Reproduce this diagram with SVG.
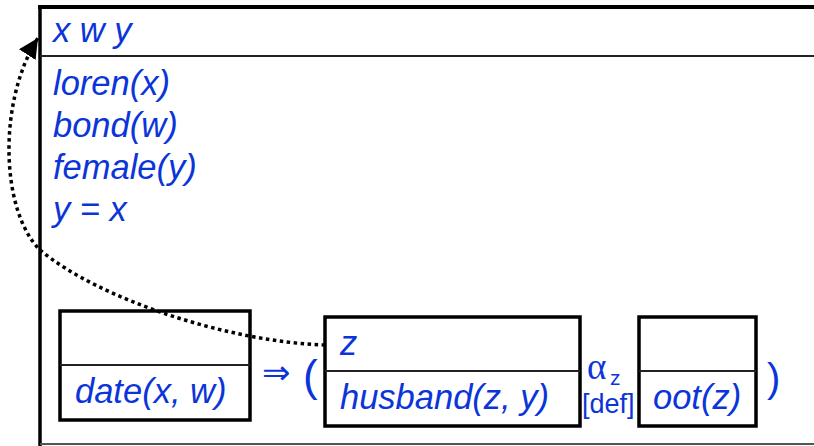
<svg xmlns="http://www.w3.org/2000/svg" width="814" height="446" viewBox="0 0 814 446">
<defs>
<style>
.t{font-family:"Liberation Sans",Arial,sans-serif;font-style:italic;font-size:34.5px;fill:#0b35d8}
.r{font-family:"Liberation Sans","DejaVu Sans",Arial,sans-serif;fill:#0b35d8}
.box{fill:#fff;stroke:#000;stroke-width:3.5}
.div{stroke:#222;stroke-width:2}
</style>
<marker id="ah" markerWidth="22" markerHeight="20" refX="18" refY="9" orient="auto" markerUnits="userSpaceOnUse" viewBox="0 0 20 18">
<path d="M0 0 L18 9 L0 18 Z" fill="#000"/>
</marker>
</defs>
<g id="frame">
<line x1="40" y1="7" x2="40" y2="446" stroke="#000" stroke-width="3.5"/>
<line x1="38" y1="7" x2="814" y2="7" stroke="#000" stroke-width="4"/>
<line x1="40" y1="56" x2="814" y2="56" stroke="#222" stroke-width="2"/>
<line x1="40" y1="444" x2="814" y2="444" stroke="#555" stroke-width="2"/>
<text class="t" x="53" y="42">x w y</text>
<text class="t" x="53" y="95">loren(x)</text>
<text class="t" x="53" y="137">bond(w)</text>
<text class="t" x="53" y="179">female(y)</text>
<text class="t" x="53" y="221">y = x</text>
</g>
<g id="date">
<rect class="box" x="60" y="311" width="190" height="109"/>
<line class="div" x1="60" y1="365" x2="250" y2="365"/>
<text class="t" x="75" y="403">date(x, w)</text>
</g>
<g id="ops">
<text x="262" y="384" font-family="'DejaVu Sans',sans-serif" font-size="34" fill="#0b35d8">⇒</text>
<text class="r" x="303" y="391" font-size="44">(</text>
<text class="r" x="767" y="392" font-size="40">)</text>
<text x="587" y="379" font-family="'Liberation Serif','Times New Roman',serif" font-size="37" fill="#0b35d8">α</text>
<text class="r" x="610" y="385" font-size="21">z</text>
<text class="r" x="582" y="413" font-size="27">[def]</text>
</g>
<g id="husband">
<rect class="box" x="325" y="317" width="255" height="109"/>
<line class="div" x1="325" y1="371" x2="580" y2="371"/>
<text class="t" x="340" y="355">z</text>
<text class="t" x="340" y="409">husband(z, y)</text>
</g>
<g id="oot">
<rect class="box" x="639" y="317" width="117" height="109"/>
<line class="div" x1="639" y1="371" x2="756" y2="371"/>
<text class="t" x="653" y="409">oot(z)</text>
</g>
<g id="connectors">
<path d="M325 345 C230 342 100 300 40 250 C0 210 -2 100 38 38" fill="none" stroke="#000" stroke-width="3.5" stroke-dasharray="3.5 3.5" marker-end="url(#ah)"/>
</g>
</svg>
